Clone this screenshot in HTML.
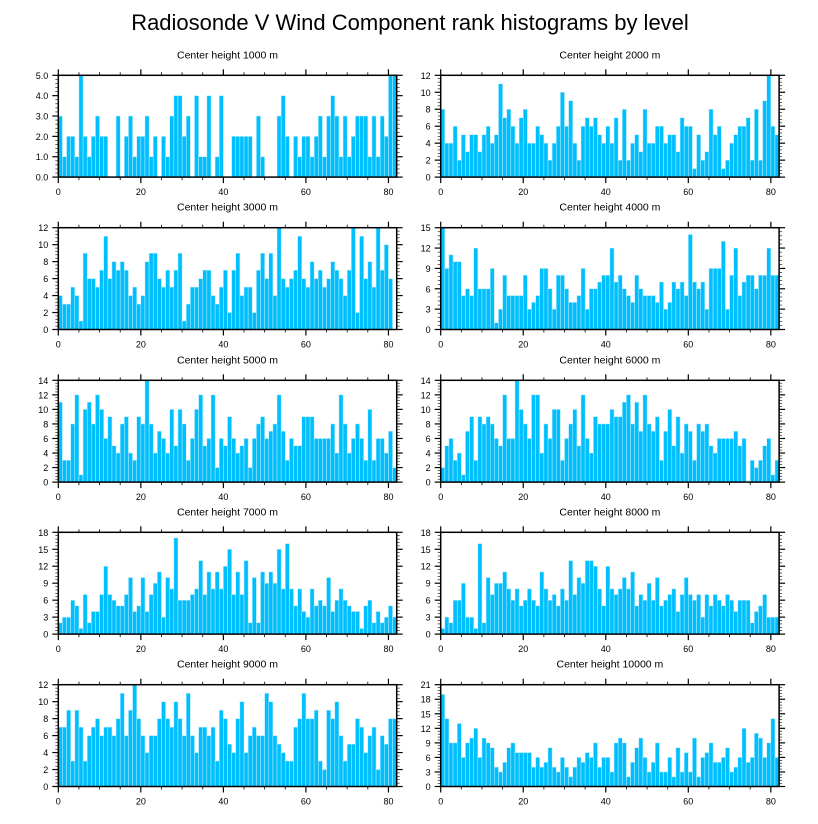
<!DOCTYPE html>
<html><head><meta charset="utf-8"><style>
html,body{margin:0;padding:0;background:#fff;}
svg{display:block;font-family:"Liberation Sans",sans-serif;}
</style></head><body>
<svg id="chart" width="818" height="824">
<text x="410" y="30" text-anchor="middle" font-size="22">Radiosonde V Wind Component rank histograms by level</text>
</svg>
<script>
const levels = ["1000","2000","3000","4000","5000","6000","7000","8000","9000","10000"];
const yMaxes = [5,12,12,15,14,14,18,18,12,21];
const ySteps = [1,2,2,3,2,2,3,3,2,3];
const xTicks = [0,20,40,60,80];
const counts1000 = [3,1,2,2,1,5,2,1,2,3,2,2,0,0,3,0,2,3,1,2,2,3,1,2,0,2,1,3,4,4,2,3,0,4,1,1,4,0,1,4,0,0,2,2,2,2,2,0,3,1,0,0,0,3,4,2,0,2,1,2,2,1,2,3,1,3,4,3,1,3,1,2,3,3,3,1,3,1,3,2,5,5];
const counts2000 = [8,4,4,6,2,5,3,5,5,3,5,6,4,5,11,7,8,6,4,7,8,4,4,6,5,4,2,4,6,10,6,9,4,2,6,7,6,7,5,4,6,4,7,2,8,2,4,5,3,8,4,4,6,6,4,5,5,3,7,6,6,1,5,2,3,8,5,6,1,2,4,5,6,6,7,2,8,2,9,12,6,5];
const counts3000 = [4,3,3,5,4,1,9,6,6,5,7,11,6,8,7,8,7,4,5,3,4,8,9,9,6,5,7,5,7,9,1,3,5,5,6,7,7,4,3,5,7,2,7,9,4,5,5,2,7,9,6,9,4,12,6,5,6,7,11,6,5,8,6,7,5,6,8,7,6,4,7,12,2,11,6,8,5,12,7,10,6];
const counts4000 = [15,9,11,10,10,5,6,5,12,6,6,6,9,1,3,8,5,5,5,5,8,3,4,5,9,9,6,3,8,8,6,4,4,5,9,3,6,6,7,8,8,12,7,8,6,5,4,8,6,5,5,5,4,7,3,4,7,6,7,5,14,7,6,7,3,9,9,9,13,3,8,12,5,7,8,8,6,8,8,12,8,8];
const counts5000 = [11,3,3,8,12,1,10,11,8,12,10,6,9,5,4,8,9,4,3,9,8,14,8,4,7,6,4,10,5,10,8,3,6,10,12,5,6,12,2,6,5,9,6,4,5,6,2,6,8,9,6,7,8,12,7,3,6,5,5,9,9,9,6,6,6,6,8,4,12,8,4,6,8,6,3,10,3,6,6,4,7,2];
const counts6000 = [2,5,6,3,4,1,7,9,3,9,8,9,8,6,5,12,6,6,14,10,8,6,12,12,4,8,6,10,10,3,6,8,10,5,12,6,4,9,8,8,8,10,9,9,11,12,8,11,7,12,8,7,9,3,7,10,5,9,4,8,7,3,8,7,8,5,4,6,6,6,6,7,5,6,0,3,2,3,5,6,1,3];
const counts7000 = [2,3,3,6,5,1,7,2,4,4,7,12,7,6,5,5,7,10,4,5,10,4,7,9,11,3,10,8,17,6,6,6,7,8,13,7,11,8,11,8,12,15,7,11,7,13,2,10,2,11,9,11,9,15,8,16,8,5,8,4,3,8,5,6,5,10,4,6,8,6,5,4,4,1,5,6,2,4,2,3,5,3];
const counts8000 = [1,3,2,6,6,9,3,3,1,16,2,10,7,9,9,11,8,6,8,5,6,8,6,5,11,8,6,7,5,8,6,13,7,10,9,13,13,12,8,5,12,8,7,8,10,8,11,5,7,6,9,6,10,5,6,7,8,4,7,10,7,6,7,3,7,5,7,6,5,7,6,4,6,6,6,2,4,5,7,3,3,3];
const counts9000 = [7,7,9,3,9,7,3,6,7,8,6,7,7,6,8,11,6,9,12,8,6,4,6,6,8,10,8,7,10,8,6,11,6,4,7,7,6,7,3,9,8,5,4,8,10,4,6,7,6,6,11,10,6,5,4,3,3,7,8,11,8,8,9,3,2,9,8,10,6,3,5,5,8,7,4,6,7,2,6,5,8,8];
const counts10000 = [19,14,9,9,13,6,9,10,12,6,10,9,8,4,3,5,8,9,7,7,7,7,4,6,4,5,8,4,3,6,4,2,4,6,5,7,6,9,4,6,6,3,9,10,9,2,5,8,10,6,3,5,9,3,3,6,2,8,3,7,3,10,2,6,7,9,5,5,6,8,3,4,6,12,5,6,11,10,6,9,14,6];
const allCounts = [counts1000,counts2000,counts3000,counts4000,counts5000,counts6000,counts7000,counts8000,counts9000,counts10000];

const NS = "http://www.w3.org/2000/svg";
const svg = document.getElementById('chart');
function mk(tag, attrs, parent){
  const e = document.createElementNS(NS, tag);
  for (const k in attrs) e.setAttribute(k, attrs[k]);
  (parent||svg).appendChild(e);
  return e;
}
const colX = [58.3, 440.7];
const rowY = [75.3, 227.7, 380.3, 532.3, 684.7];
const W = 338.4, H = 101.8, XMAX = 82;

for (let p = 0; p < 10; p++) {
  const x0 = colX[p % 2], y0 = rowY[Math.floor(p / 2)];
  const yMax = yMaxes[p], step = ySteps[p], data = allCounts[p];
  const xs = v => x0 + v / XMAX * W;
  const ys = v => y0 + H - v / yMax * H;
  const g = mk('g', {});
  
  
  const t = mk('text', {x: x0 + W / 2, y: y0 - 17, 'text-anchor': 'middle', 'font-size': 10.5}, g);
  t.textContent = 'Center height ' + levels[p] + ' m';
  
  
  data.forEach((v, i) => {
    if (v <= 0) return;
    const r = mk('rect', {x: xs(i), y: ys(v), width: xs(i + 1) - xs(i), height: ys(0) - ys(v), fill: '#00bfff', stroke: '#bfefff', 'stroke-width': 0.5}, g);
    
    
  });
  const frame = mk('rect', {x: x0, y: y0, width: W, height: H, fill: 'none', stroke: '#000', 'stroke-width': 1.5}, g);
  
  
  for (let v = 0; v <= 80; v += 5) {
    const major = v % 20 === 0, len = major ? 6 : 3, X = xs(v);
    mk('line', {x1: X, x2: X, y1: y0 + H, y2: y0 + H + len, stroke: '#000', 'stroke-width': major ? 1.2 : 0.8}, g);
    mk('line', {x1: X, x2: X, y1: y0, y2: y0 - len, stroke: '#000', 'stroke-width': major ? 1.2 : 0.8}, g);
  }
  xTicks.forEach(v => {
    const tl = mk('text', {x: xs(v), y: y0 + H + 18, 'text-anchor': 'middle', 'font-size': 9}, g);
    tl.textContent = v;
    
    
  });
  const minor = step / 5;
  for (let k = 0; k <= Math.round(yMax / minor); k++) {
    const v = k * minor, major = k % 5 === 0, len = major ? 6 : 3, Y = ys(v);
    mk('line', {x1: x0, x2: x0 - len, y1: Y, y2: Y, stroke: '#000', 'stroke-width': major ? 1.2 : 0.6}, g);
    mk('line', {x1: x0 + W, x2: x0 + W + len, y1: Y, y2: Y, stroke: '#000', 'stroke-width': major ? 1.2 : 0.6}, g);
  }
  for (let v = 0; v <= yMax + 1e-9; v += step) {
    const yl = mk('text', {x: x0 - 10, y: ys(v) + 3.5, 'text-anchor': 'end', 'font-size': 9}, g);
    yl.textContent = yMax <= 5 ? v.toFixed(1) : v;
    
    
  }
}
</script>
</body></html>
